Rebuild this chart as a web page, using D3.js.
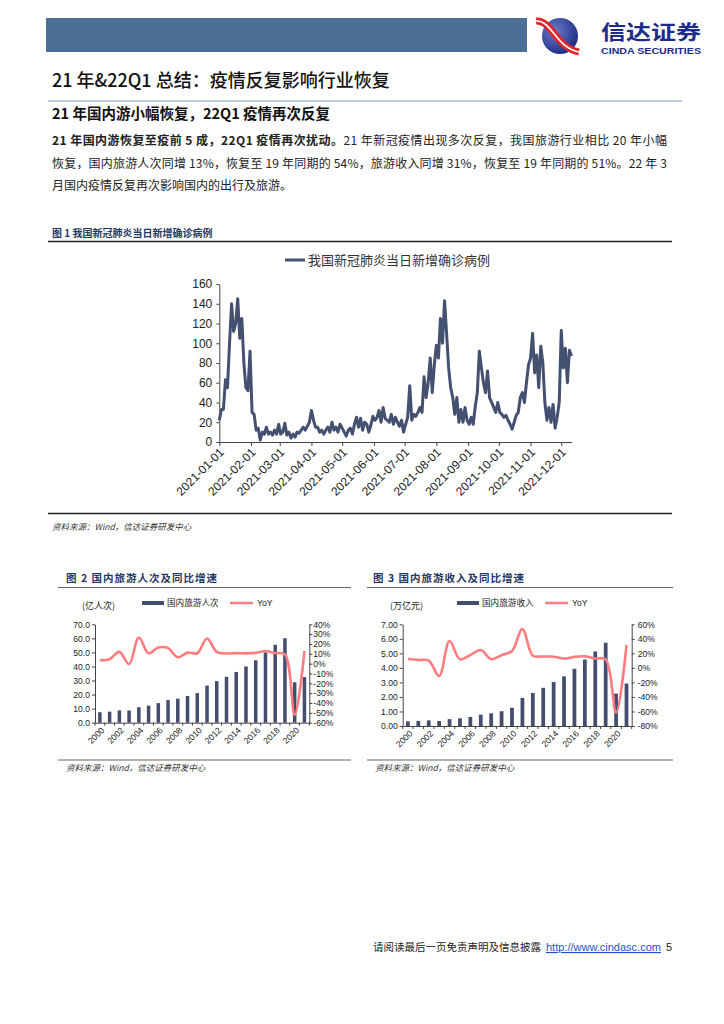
<!DOCTYPE html>
<html><head><meta charset="utf-8">
<script src="https://cdn.jsdelivr.net/npm/d3@7"></script>
<style>body{margin:0;background:#fff}svg{display:block}</style>
</head><body>
<svg id="c" width="724" height="1024"></svg>
<script>
// ---------- DATA ----------
const covidStart = "2021-01-01";
const covidStepDays = 2;
const covidCases = [22,33,33,63,55,100,140,112,120,145,105,125,80,55,52,92,30,28,12,14,
  2,10,8,15,8,10,7,12,8,18,8,10,19,7,10,4,8,5,10,9,
  12,15,12,16,20,32,22,15,15,10,12,8,12,15,10,20,12,15,10,18,
  14,10,6,12,14,8,18,25,15,24,12,20,18,10,17,26,22,25,32,20,
  35,24,22,20,28,18,25,20,16,22,10,18,25,57,22,28,26,30,35,30,
  66,45,60,85,50,78,98,85,125,100,143,110,75,55,45,28,45,20,33,20,
  35,22,18,25,18,36,50,92,75,60,50,72,45,40,35,30,40,30,28,25,
  27,22,18,13,20,27,30,45,50,40,60,78,85,110,70,88,55,97,80,40,
  22,35,20,38,14,25,40,113,75,95,60,93,87];
const covidEnd = "2021-12-11";
const covidXTicks = ["2021-01-01","2021-02-01","2021-03-01","2021-04-01","2021-05-01","2021-06-01",
  "2021-07-01","2021-08-01","2021-09-01","2021-10-01","2021-11-01","2021-12-01"];
const covidYTicks = [0,20,40,60,80,100,120,140,160];

const years = ["2000","2001","2002","2003","2004","2005","2006","2007","2008","2009","2010",
  "2011","2012","2013","2014","2015","2016","2017","2018","2019","2020","2021"];
const yearLabels = ["2000","2002","2004","2006","2008","2010","2012","2014","2016","2018","2020"];
const tripsValues = [7.44,7.84,8.78,8.70,11.02,12.12,13.94,16.10,17.12,19.02,21.03,
  26.41,29.57,32.62,36.11,40.0,44.4,50.01,55.39,60.06,28.79,32.46];
const tripsYoY = [3.5,4.5,12,-0.6,26.6,10.6,16.5,15.8,6.5,11.2,10.6,
  25.6,11.9,10.3,10.7,10.5,11,12.8,10.8,9.5,-52.1,12.8];
const tripsLeftTicks = [0,10,20,30,40,50,60,70];
const tripsRightTicks = [-60,-50,-40,-30,-20,-10,0,10,20,30,40];

const revenueValues = [0.318,0.352,0.388,0.344,0.471,0.529,0.623,0.777,0.875,1.018,1.258,
  1.930,2.271,2.628,3.031,3.42,3.94,4.57,5.13,5.73,2.23,2.92];
const revenueYoY = [12.3,10.9,10.0,-11.2,37.0,11.8,17.8,24.6,12.0,17.5,23.3,
  53.5,16.8,15.7,15.4,12.8,15.2,15.9,13.0,11.7,-61.7,31.5];
const revenueLeftTicks = [0,1,2,3,4,5,6,7];
const revenueRightTicks = [-80,-60,-40,-20,0,20,40,60];

// ---------- SETUP ----------
const svg = d3.select("#c");
const CJK = "'Noto Sans CJK SC','Noto Sans',sans-serif";
const LAT = "'Liberation Sans',Arial,sans-serif";
const NAVY = "#434D6E", PINK = "#FF7C80", CAP = "#1F3864";

// ---------- HEADER ----------
svg.append("rect").attr("x",46).attr("y",18).attr("width",481).attr("height",34).attr("fill","#4B6F97");
const defs = svg.append("defs");
const rg = defs.append("radialGradient").attr("id","lg").attr("cx","35%").attr("cy","35%").attr("r","70%");
rg.append("stop").attr("offset","0%").attr("stop-color","#6C7CC8");
rg.append("stop").attr("offset","100%").attr("stop-color","#1E2C86");
svg.append("circle").attr("cx",560).attr("cy",36).attr("r",18).attr("fill","url(#lg)");
svg.append("path").attr("d","M536,21 C552,20 556,48 579,52").attr("fill","none").attr("stroke","#E0262B").attr("stroke-width",7);
svg.append("path").attr("d","M536,21 C552,20 556,48 579,52").attr("fill","none").attr("stroke","#fff").attr("stroke-width",1.6);
svg.append("text").attr("x",601).attr("y",40).attr("font-family",CJK).attr("font-weight","bold")
  .attr("font-size",20).attr("fill","#1D2C86").attr("textLength",100).attr("lengthAdjust","spacingAndGlyphs").text("信达证券");
svg.append("text").attr("x",601).attr("y",54).attr("font-family",LAT).attr("font-weight","bold")
  .attr("font-size",8.5).attr("fill","#1D2C86").attr("textLength",100).attr("lengthAdjust","spacingAndGlyphs").text("CINDA SECURITIES");

// ---------- TITLES & TEXT ----------
svg.append("text").attr("x",52).attr("y",87).attr("font-family",CJK).attr("font-size",18).attr("font-weight",500)
  .attr("fill","#111").text("21 年&22Q1 总结：疫情反复影响行业恢复");
svg.append("line").attr("x1",48).attr("x2",682).attr("y1",101).attr("y2",101).attr("stroke","#A7BBD3").attr("stroke-width",1.5);
svg.append("text").attr("x",52).attr("y",119).attr("font-family",CJK).attr("font-size",14.5).attr("font-weight","bold")
  .attr("fill","#111").text("21 年国内游小幅恢复，22Q1 疫情再次反复");

const p1 = svg.append("text").attr("x",52).attr("y",145).attr("font-family",CJK).attr("font-size",12).attr("fill","#222")
  .attr("textLength",615).attr("lengthAdjust","spacing");
p1.append("tspan").attr("font-weight","bold").text("21 年国内游恢复至疫前 5 成，22Q1 疫情再次扰动。");
p1.append("tspan").text("21 年新冠疫情出现多次反复，我国旅游行业相比 20 年小幅");
svg.append("text").attr("x",52).attr("y",168).attr("font-family",CJK).attr("font-size",12).attr("fill","#222")
  .attr("textLength",615).attr("lengthAdjust","spacing")
  .text("恢复，国内旅游人次同增 13%，恢复至 19 年同期的 54%，旅游收入同增 31%，恢复至 19 年同期的 51%。22 年 3");
svg.append("text").attr("x",52).attr("y",190).attr("font-family",CJK).attr("font-size",12).attr("fill","#222")
  .text("月国内疫情反复再次影响国内的出行及旅游。");

// ---------- FIGURE 1 ----------
svg.append("text").attr("x",52).attr("y",237).attr("font-family",CJK).attr("font-size",10).attr("font-weight","bold")
  .attr("fill",CAP).text("图 1  我国新冠肺炎当日新增确诊病例");
svg.append("line").attr("x1",48).attr("x2",672).attr("y1",241.5).attr("y2",241.5).attr("stroke","#222").attr("stroke-width",1.5);
svg.append("line").attr("x1",285).attr("x2",305).attr("y1",260).attr("y2",260).attr("stroke","#44506F").attr("stroke-width",3);
svg.append("text").attr("x",308).attr("y",264.5).attr("font-family",CJK).attr("font-size",13).attr("fill","#333")
  .text("我国新冠肺炎当日新增确诊病例");

const parse = d3.timeParse("%Y-%m-%d");
const t0 = parse(covidStart);
const covidData = covidCases.map((v,i)=>({date:d3.timeDay.offset(t0,i*covidStepDays), v}));
const x1 = d3.scaleTime().domain([t0, parse(covidEnd)]).range([219.3, 571.5]);
const y1 = d3.scaleLinear().domain([0,160]).range([442,284]);

const gx1 = svg.append("g").attr("transform","translate(0,442)")
  .call(d3.axisBottom(x1).tickValues(covidXTicks.map(parse)).tickSize(4).tickSizeOuter(0).tickFormat(d3.timeFormat("%Y-%m-%d")));
gx1.selectAll("text").attr("font-family",LAT).attr("font-size",12).attr("fill","#222")
  .attr("text-anchor","end").attr("x",0).attr("y",0).attr("dy","0.35em")
  .attr("transform","translate(2,8) rotate(-45)");
const gy1 = svg.append("g").attr("transform","translate(219.3,0)")
  .call(d3.axisLeft(y1).tickValues(covidYTicks).tickSize(3).tickSizeOuter(0).tickFormat(d3.format("d")));
gy1.selectAll("text").attr("font-family",LAT).attr("font-size",12).attr("fill","#222").attr("x",-7);
[gx1,gy1].forEach(g=>{g.selectAll("path,line").attr("stroke","#444");});

svg.append("path").datum(covidData).attr("fill","none").attr("stroke","#44506F").attr("stroke-width",3)
  .attr("stroke-linejoin","round")
  .attr("d", d3.line().x(d=>x1(d.date)).y(d=>y1(d.v)));

svg.append("line").attr("x1",48).attr("x2",672).attr("y1",513.5).attr("y2",513.5).attr("stroke","#222").attr("stroke-width",1.5);
svg.append("text").attr("x",52).attr("y",530).attr("font-family",CJK).attr("font-size",8.5).attr("font-style","italic")
  .attr("fill","#333").text("资料来源：Wind，信达证券研发中心");

// ---------- BAR + LINE COMBO ----------
function combo(o){
  svg.append("text").attr("x",o.capX).attr("y",582).attr("font-family",CJK).attr("font-size",10.5).attr("font-weight","bold")
    .attr("fill",CAP).attr("letter-spacing",1).text(o.caption);
  svg.append("line").attr("x1",o.ruleX1).attr("x2",o.ruleX2).attr("y1",587.5).attr("y2",587.5).attr("stroke","#666").attr("stroke-width",1);
  // legend
  svg.append("rect").attr("x",o.legX).attr("y",601).attr("width",22).attr("height",4).attr("fill",NAVY);
  svg.append("text").attr("x",o.legX+25).attr("y",606).attr("font-family",CJK).attr("font-size",8.6).attr("fill","#222").text(o.barName);
  svg.append("line").attr("x1",o.legX+88).attr("x2",o.legX+111).attr("y1",603).attr("y2",603).attr("stroke",PINK).attr("stroke-width",2.5);
  svg.append("text").attr("x",o.legX+115).attr("y",606).attr("font-family",LAT).attr("font-size",8.6).attr("fill","#222").text("YoY");
  svg.append("text").attr("x",o.unitX).attr("y",609).attr("font-family",CJK).attr("font-size",9).attr("fill","#222").text(o.unit);

  const x = d3.scaleBand().domain(years).range([o.x0,o.x1]).paddingInner(0.64).paddingOuter(0.32);
  const yl = d3.scaleLinear().domain(o.lDom).range([o.yb,624.3]);
  const yr = d3.scaleLinear().domain(o.rDom).range([o.yb,624.3]);

  svg.append("g").selectAll("rect").data(o.values).join("rect")
    .attr("x",(d,i)=>x(years[i])).attr("width",x.bandwidth())
    .attr("y",d=>yl(d)).attr("height",d=>yl(0)-yl(d)).attr("fill",NAVY);

  const gl = svg.append("g").attr("transform",`translate(${o.x0},0)`)
    .call(d3.axisLeft(yl).tickValues(o.lTicks).tickSize(3).tickSizeOuter(0).tickFormat(d3.format(o.lFmt)));
  gl.selectAll("text").attr("font-family",LAT).attr("font-size",8.6).attr("fill","#222").attr("x",-5);
  const gr = svg.append("g").attr("transform",`translate(${o.x1},0)`)
    .call(d3.axisRight(yr).tickValues(o.rTicks).tickSize(3).tickSizeOuter(0).tickFormat(d=>d+"%"));
  gr.selectAll("text").attr("font-family",LAT).attr("font-size",8.6).attr("fill","#222").attr("x",o.rLabX);
  const gb = svg.append("g").attr("transform",`translate(0,${o.yb})`)
    .call(d3.axisBottom(x).tickValues(yearLabels).tickSize(0).tickSizeOuter(0));
  gb.selectAll("text").attr("font-family",LAT).attr("font-size",8.6).attr("fill","#222")
    .attr("text-anchor","end").attr("x",0).attr("y",0).attr("dy","0.35em")
    .attr("transform","translate(3,6) rotate(-45)");
  // category boundary ticks
  svg.append("g").selectAll("line").data(d3.range(years.length+1)).join("line")
    .attr("x1",i=>o.x0+i*x.step()).attr("x2",i=>o.x0+i*x.step())
    .attr("y1",o.yb).attr("y2",o.yb+3).attr("stroke","#444");
  [gl,gr,gb].forEach(g=>g.selectAll("path,line").attr("stroke","#444"));

  svg.append("path").datum(o.yoy).attr("fill","none").attr("stroke",PINK).attr("stroke-width",2.6)
    .attr("d", d3.line().curve(d3.curveCatmullRom.alpha(0.5))
      .x((d,i)=>x(years[i])+x.bandwidth()/2).y(d=>yr(d)));

  svg.append("line").attr("x1",o.ruleX1).attr("x2",o.ruleX2).attr("y1",760).attr("y2",760).attr("stroke","#666").attr("stroke-width",1);
  svg.append("text").attr("x",o.srcX).attr("y",771).attr("font-family",CJK).attr("font-size",8.5).attr("font-style","italic")
    .attr("fill","#333").text("资料来源：Wind，信达证券研发中心");
}

combo({caption:"图 2  国内旅游人次及同比增速", capX:66, ruleX1:58, ruleX2:351, legX:142, barName:"国内旅游人次",
  unit:"(亿人次)", unitX:82, x0:95, x1:309.3, yb:722.7, lDom:[0,70], rDom:[-60,40],
  lTicks:tripsLeftTicks, rTicks:tripsRightTicks, lFmt:".1f", rLabX:4,
  values:tripsValues, yoy:tripsYoY, srcX:66});
combo({caption:"图 3  国内旅游收入及同比增速", capX:373, ruleX1:367, ruleX2:673, legX:457, barName:"国内旅游收入",
  unit:"(万亿元)", unitX:390, x0:402.7, x1:631.7, yb:726, lDom:[0,7], rDom:[-80,60],
  lTicks:revenueLeftTicks, rTicks:revenueRightTicks, lFmt:".2f", rLabX:6,
  values:revenueValues, yoy:revenueYoY, srcX:375});

// ---------- FOOTER ----------
svg.append("text").attr("x",373).attr("y",951).attr("font-family",CJK).attr("font-size",10.5).attr("fill","#222")
  .text("请阅读最后一页免责声明及信息披露");
svg.append("a").attr("href","http://www.cindasc.com").append("text").attr("x",546).attr("y",951)
  .attr("font-family",LAT).attr("font-size",11).attr("fill","#1F4FD0").attr("text-decoration","underline")
  .text("http://www.cindasc.com");
svg.append("text").attr("x",666).attr("y",951).attr("font-family",LAT).attr("font-size",11).attr("fill","#222").text("5");
</script>
</body></html>
